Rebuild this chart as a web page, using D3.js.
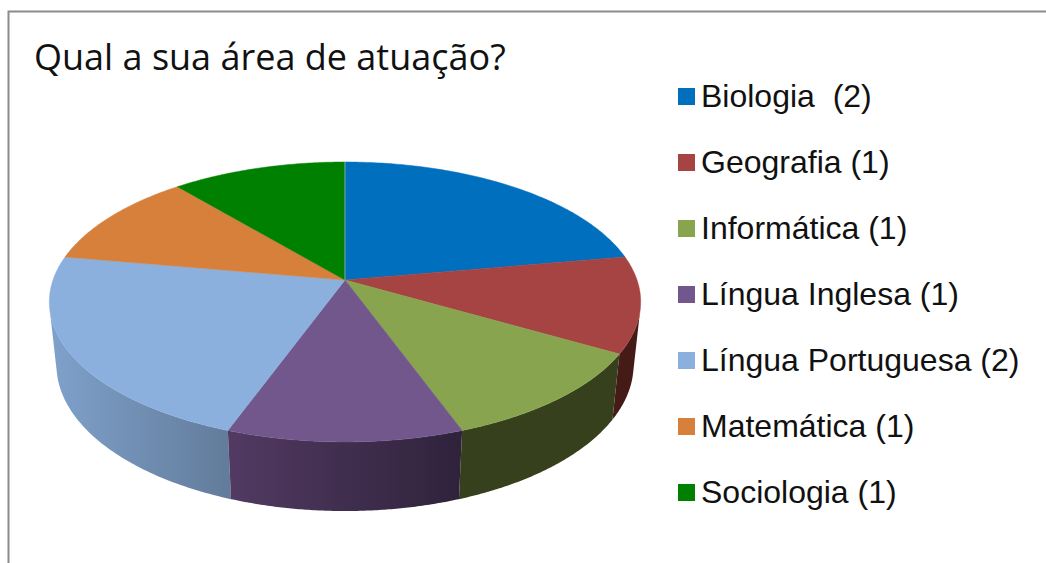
<!DOCTYPE html>
<html>
<head>
<meta charset="utf-8">
<script src="https://cdn.jsdelivr.net/npm/d3@7"></script>
<style>
    html, body { margin: 0; padding: 0; background: #fff; overflow: hidden; }
    svg { display: block; }
</style>
</head>
<body>
<div id="chart"></div>
<script>
const categories = ["Biologia  (2)", "Geografia (1)", "Informática (1)", "Língua Inglesa (1)", "Língua Portuguesa (2)", "Matemática (1)", "Sociologia (1)"];
const counts = [2, 1, 1, 1, 2, 1, 1];
const topColors = ["#006fbe", "#a54442", "#89a44e", "#71578c", "#8bb0de", "#d7803c", "#008000"];
const sideLeft = ["#00508a", "#451b18", "#37401d", "#523a62", "#7fa1cb", "#9c5c2a", "#005c00"];
const sideRight = ["#00508a", "#451b18", "#37401d", "#2f223b", "#627b9a", "#9c5c2a", "#005c00"];

const width = 1046;
const height = 563;

const svg = d3.select("#chart").append("svg")
    .attr("width", width)
    .attr("height", height)
    .attr("viewBox", [0, 0, width, height]);

const defs = svg.append("defs");

// frame, open on the right and bottom
svg.append("path")
    .attr("d", "M8.5,563V11.5H1046")
    .attr("fill", "none")
    .attr("stroke", "#8c8c8c")
    .attr("stroke-width", 2);

svg.append("text")
    .attr("x", 34)
    .attr("y", 70)
    .attr("font-family", "Open Sans")
    .attr("font-size", 36)
    .attr("fill", "#111")
    .text("Qual a sua área de atuação?");

// perspective of the disc: h = 0 is the top face, h = 1 the bottom one
const cx = 345, cy = 280;
function project(angle, h) {
    const u = Math.sin(angle), v = -Math.cos(angle);
    const w = 1 - 0.157 * v + 0.024 * h;
    return [cx + 292 * u / w, cy + (136.5 * v + 63.8 * h) / w];
}

const arcs = d3.pie().sort(null).value(d => d)(counts);

// angle steps along one slice's rim
const rim = d => d3.range(0, 97).map(i => d.startAngle + (d.endAngle - d.startAngle) * i / 96);
const line = d3.line();

// a wall only faces the viewer where the rim runs across the wall's direction
function facesViewer(a) {
    const p = project(a, 0), q = project(a + 0.001, 0), b = project(a, 1);
    return (q[0] - p[0]) * (b[1] - p[1]) - (q[1] - p[1]) * (b[0] - p[0]) < 0;
}

// side walls go from back to front so the nearer ones cover the rest
const depth = d => -Math.cos((d.startAngle + d.endAngle) / 2);
const sides = arcs.slice().sort((a, b) => d3.ascending(depth(a), depth(b)));

sides.forEach(d => {
    const angles = rim(d).filter(facesViewer);
    if (angles.length < 2) return;
    const pts = angles.map(a => project(a, 0)).concat(angles.slice().reverse().map(a => project(a, 1)));
    const [x0, x1] = d3.extent(pts, p => p[0]);
    const id = "side" + d.index;
    const grad = defs.append("linearGradient")
        .attr("id", id)
        .attr("gradientUnits", "userSpaceOnUse")
        .attr("x1", x0).attr("x2", x1)
        .attr("y1", 0).attr("y2", 0);
    grad.append("stop").attr("offset", 0).attr("stop-color", sideLeft[d.index]);
    grad.append("stop").attr("offset", 1).attr("stop-color", sideRight[d.index]);
    svg.append("path")
        .attr("d", line(pts) + "Z")
        .attr("fill", `url(#${id})`);
});

svg.selectAll("path.top")
    .data(arcs)
    .join("path")
    .attr("class", "top")
    .attr("d", d => line([[cx, cy]].concat(rim(d).map(a => project(a, 0)))) + "Z")
    .attr("fill", d => topColors[d.index])
    .attr("stroke", d => topColors[d.index])
    .attr("stroke-width", 0.5);

// light seam where the first and last slices meet
svg.append("line")
    .attr("x1", cx).attr("y1", cy)
    .attr("x2", project(0, 0)[0]).attr("y2", project(0, 0)[1])
    .attr("stroke", "#7fa8c8")
    .attr("stroke-width", 1);

// legend
const legendY = d3.scalePoint().domain(categories).range([97, 493]);

const legend = svg.selectAll("g.legend")
    .data(categories)
    .join("g")
    .attr("class", "legend")
    .attr("transform", d => `translate(678,${legendY(d)})`);

legend.append("rect")
    .attr("y", -9)
    .attr("width", 17)
    .attr("height", 17)
    .attr("fill", (d, i) => topColors[i]);

legend.append("text")
    .attr("x", 23)
    .attr("y", 10)
    .attr("font-family", "Liberation Sans")
    .attr("font-size", 32)
    .attr("fill", "#111")
    .style("white-space", "pre")
    .text(d => d);
</script>
</body>
</html>
